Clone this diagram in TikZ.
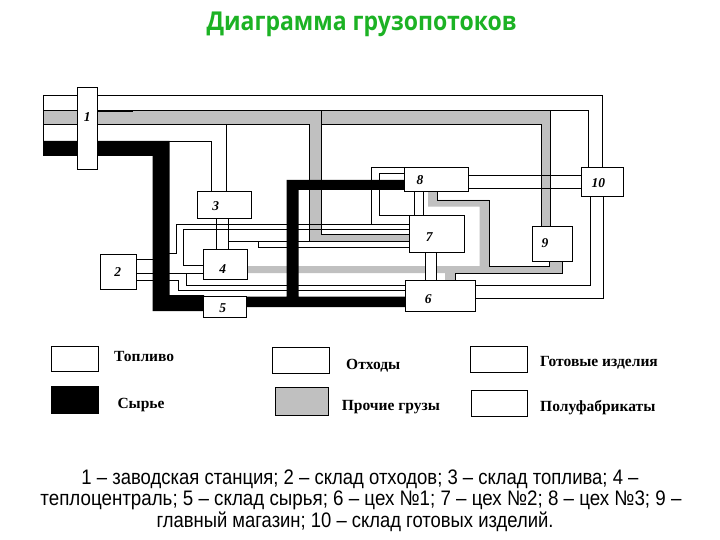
\documentclass[tikz,border=0pt]{standalone}
\usepackage{fontspec}
\usepackage{graphicx}
\setmainfont{Liberation Serif}
\newfontfamily\titlefont{Open Sans}
\newfontfamily\notefont{Liberation Sans}
\definecolor{lg}{RGB}{192,192,192}
\definecolor{tgreen}{RGB}{28,178,36}
\begin{document}
\begin{tikzpicture}[x=1pt,y=-1pt,
  ln/.style={line width=0.9pt},
  box/.style={draw, fill=white, line width=0.9pt, inner sep=0pt, outer sep=0pt},
  num/.style={font=\bfseries\itshape\fontsize{13.5}{14}\selectfont, inner sep=0pt},
  leg/.style={font=\bfseries\fontsize{15.5}{16}\selectfont, anchor=base west, inner sep=0pt},
  note/.style={anchor=base, inner sep=0pt}]
\fill[white] (0,0) rectangle (720,540);
\useasboundingbox (0,0) rectangle (720,540);

% title
\node[anchor=base, inner sep=0pt, text=tgreen] (title) at (361.5,31)
  {\resizebox{310pt}{\height}{\titlefont\bfseries\fontsize{26}{30}\selectfont Диаграмма грузопотоков}};

% gray flows ("Прочие грузы")
\fill[lg] (43,110.7) -- (550,110.7) -- (550,226) -- (541,226) -- (541,124) -- (321,124)
  -- (321,234) -- (409,234) -- (409,241.7) -- (309.3,241.7) -- (309.3,124) -- (43,124) -- cycle;
\fill[lg] (428,191) -- (437.5,191) -- (437.5,200) -- (489,200) -- (489,266) -- (549,266)
  -- (549,261) -- (562.5,261) -- (562.5,273) -- (455,273) -- (455,280) -- (445,280)
  -- (445,273) -- (247,273) -- (247,266) -- (479.5,266) -- (479.5,206.7) -- (428,206.7) -- cycle;
\fill[white] (425,265) rectangle (436,274);

% thin flows
\draw[ln] (43,95) -- (43,156);
\draw[ln] (43,95) -- (602.3,95) -- (602.3,167);
\draw[ln] (43,110.7) -- (588.3,110.7) -- (588.3,167);
\draw[line width=2pt] (98,110.7) -- (133,110.7);
\draw[ln] (43,124) -- (309.3,124) -- (309.3,241.5) -- (409,241.5);
\draw[ln] (226.7,124) -- (226.7,191);
\draw[ln] (43,141) -- (211,141) -- (211,191);
\draw[ln] (321,110.7) -- (321,234) -- (409,234);
\draw[ln] (321,124) -- (541,124) -- (541,226);
\draw[ln] (550,110.7) -- (550,226);
\draw[ln] (468,175.5) -- (581,175.5);
\draw[ln] (468,188.5) -- (581,188.5);
\draw[ln] (475,285) -- (590.7,285) -- (590.7,196);
\draw[ln] (475,298.3) -- (603,298.3) -- (603,196);
\draw[ln] (404,167.3) -- (371,167.3) -- (371,224.3);
\draw[ln] (404,173.3) -- (379.3,173.3) -- (379.3,215) -- (409,215);
\draw[ln] (414.3,191) -- (414.3,215);
\draw[ln] (423,191) -- (423,215);
\draw[ln] (425,252) -- (425,280);
\draw[ln] (436,252) -- (436,280);
\draw[ln] (136,259.3) -- (161,259.3) -- (161,253.3) -- (176.7,253.3) -- (176.7,224.3) -- (409,224.3);
\draw[ln] (203,265) -- (183.3,265) -- (183.3,229.5) -- (409,229.5);
\draw[ln] (228,241.5) -- (309.3,241.5);
\draw[ln] (258.3,241.5) -- (258.3,247.3) -- (409,247.3);
\draw[ln] (216,218) -- (216,249);
\draw[ln] (228,218) -- (228,249);
\draw[ln] (136,273.5) -- (203,273.5);
\draw[ln] (186.7,273.5) -- (186.7,285) -- (405,285);
\draw[ln] (136,280) -- (178.3,280) -- (178.3,290.7) -- (405,290.7);
\draw[ln] (437.5,191) -- (437.5,200) -- (489,200) -- (489,266) -- (549,266) -- (549,261);
\draw[ln] (455,280) -- (455,273) -- (562.5,273) -- (562.5,261);

% black flows ("Сырье")
\fill[black] (43,141) -- (169.5,141) -- (169.5,295) -- (204,295) -- (204,311) -- (152.5,311)
  -- (152.5,156) -- (43,156) -- cycle;
\fill[black] (246,296.5) -- (286.5,296.5) -- (286.5,180) -- (404,180) -- (404,190) -- (298.5,190)
  -- (298.5,296.5) -- (405,296.5) -- (405,307) -- (246,307) -- cycle;

% boxes
\node[box, minimum width=20pt, minimum height=82pt] (b1) at (87,128) {};
\node[box, minimum width=36pt, minimum height=35pt] (b2) at (118,271.5) {};
\node[box, minimum width=54pt, minimum height=27pt] (b3) at (224,204.5) {};
\node[box, minimum width=44pt, minimum height=30pt] (b4) at (225,264) {};
\node[box, minimum width=43pt, minimum height=21pt] (b5) at (224.5,306.5) {};
\node[box, minimum width=70pt, minimum height=31pt] (b6) at (440,295.5) {};
\node[box, minimum width=55pt, minimum height=37pt] (b7) at (436.5,233.5) {};
\node[box, minimum width=64pt, minimum height=24pt] (b8) at (436,179) {};
\node[box, minimum width=40pt, minimum height=35pt] (b9) at (552,243.5) {};
\node[box, minimum width=42pt, minimum height=29pt] (b10) at (602,181.5) {};

\node[num] (n1) at (87.3,116.7) {1};
\node[num] (n2) at (117.7,271.7) {2};
\node[num] (n3) at (215.7,206) {3};
\node[num] (n4) at (222.7,269.3) {4};
\node[num] (n5) at (222.7,307.7) {5};
\node[num] (n6) at (428.3,299.3) {6};
\node[num] (n7) at (429.3,237.3) {7};
\node[num] (n8) at (420,180) {8};
\node[num] (n9) at (545,243.3) {9};
\node[num] (n10) at (598.3,183.3) {10};

% legend
\node[box, minimum width=47pt, minimum height=24.5pt] (k1) at (75.3,358.8) {};
\node[box, fill=black, minimum width=47pt, minimum height=27pt] (k2) at (75.3,400.3) {};
\node[box, minimum width=56.6pt, minimum height=26pt] (k3) at (301,360.3) {};
\node[box, fill=lg, minimum width=53pt, minimum height=28pt] (k4) at (301.8,401.7) {};
\node[box, minimum width=56.6pt, minimum height=26pt] (k5) at (498.9,359.7) {};
\node[box, minimum width=55.8pt, minimum height=26pt] (k6) at (499.3,403) {};
\node[leg] (t1) at (114,361) {Топливо};
\node[leg] (t2) at (117.3,408) {Сырье};
\node[leg] (t3) at (346,369) {Отходы};
\node[leg] (t4) at (341.7,410) {Прочие грузы};
\node[leg] (t5) at (540,366) {Готовые изделия};
\node[leg] (t6) at (540,411) {Полуфабрикаты};

% caption
\node[note] (c1) at (360,484) {\resizebox{557pt}{\height}{\notefont\fontsize{21}{24}\selectfont 1 – заводская станция; 2 – склад отходов; 3 – склад топлива; 4 –}};
\node[note] (c2) at (361,505.5) {\resizebox{641pt}{\height}{\notefont\fontsize{21}{24}\selectfont теплоцентраль; 5 – склад сырья; 6 – цех №1; 7 – цех №2; 8 – цех №3; 9 –}};
\node[note] (c3) at (355,527) {\resizebox{397pt}{\height}{\notefont\fontsize{21}{24}\selectfont главный магазин; 10 – склад готовых изделий.}};
\end{tikzpicture}
\end{document}
